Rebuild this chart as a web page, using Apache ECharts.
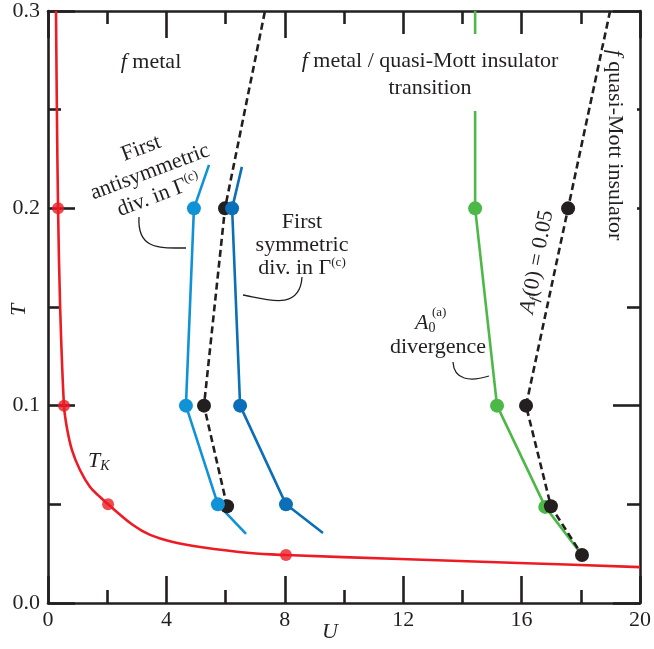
<!DOCTYPE html>
<html>
<head>
<meta charset="utf-8">
<script src="https://cdn.jsdelivr.net/npm/echarts@6/dist/echarts.min.js"></script>
<style>
  html, body { margin: 0; padding: 0; background: #ffffff; }
  #chart { width: 654px; height: 649px; }
</style>
</head>
<body>
<div id="chart"></div>
<script>
const INK = '#231f20';
const RED = '#ed1c24';
const GREEN = '#4cb848';
const LIGHT_BLUE = '#0f93d6';
const DARK_BLUE = '#0a6fb8';
const SERIF = '"Liberation Serif", "Times New Roman", serif';

// Axis ticks
const xTicks = [0, 4, 8, 12, 16, 20];
const yTickLabels = ['0.0', '0.1', '0.2', '0.3'];

// Kondo scale T_K(U)
const tkU = [0.27, 0.30, 0.34, 0.41, 0.54, 0.64, 0.81, 1.08, 1.42, 1.76, 2.03, 2.87, 3.45, 4.22, 5.14, 6.82, 8.04, 11.9, 15.9, 20.0];
const tkT = [0.300, 0.250, 0.200, 0.150, 0.100, 0.0887, 0.0775, 0.0674, 0.0588, 0.0537, 0.050, 0.0395, 0.0345, 0.0309, 0.0284, 0.0253, 0.0243, 0.0223, 0.0203, 0.0182];
const tkDotU = [0.34, 0.54, 2.03, 8.04];
const tkDotT = [0.20, 0.10, 0.05, 0.0243];

// First antisymmetric divergence in Gamma^(c)
const antiU = [5.44, 4.93, 4.66, 5.74, 6.69];
const antiT = [0.222, 0.20, 0.10, 0.05, 0.035];
const antiDot = [false, true, true, true, false];

// First symmetric divergence in Gamma^(c)
const symU = [6.55, 6.22, 6.49, 8.04, 9.29];
const symT = [0.221, 0.20, 0.10, 0.05, 0.0355];
const symDot = [false, true, true, true, false];

// Left A_f(0) = 0.05 contour
const afLeftU = [6.05, 5.27, 5.98, 7.33];
const afLeftT = [0.049, 0.10, 0.20, 0.30];
const afLeftDot = [true, true, true, false];

// A_0^(a) divergence line
const a0U = [14.43, 14.43, 15.17, 16.80, 18.04];
const a0T = [0.30, 0.20, 0.10, 0.0487, 0.0243];
const a0Dot = [false, true, true, true, false];

// Right A_f(0) = 0.05 contour
const afRightU = [18.99, 17.57, 16.15, 16.99, 18.04];
const afRightT = [0.30, 0.20, 0.10, 0.049, 0.0243];
const afRightDot = [false, true, true, true, true];

function pts(us, ts, dots) {
  return us.map((u, i) => ({
    value: [u, ts[i]],
    symbol: (dots && dots[i]) ? 'circle' : 'none'
  }));
}

function lineSeries(us, ts, dots, color, dashed, size) {
  return {
    type: 'line',
    data: pts(us, ts, dots),
    showAllSymbol: true,
    symbolSize: size || 13,
    itemStyle: { color: color },
    lineStyle: { color: color, width: 2.6, type: dashed ? [7, 4] : 'solid', cap: 'butt' },
    emphasis: { disabled: true },
    silent: true,
    z: 3
  };
}

const axisBase = {
  type: 'value',
  axisLine: { show: true, onZero: false, lineStyle: { color: INK, width: 2.6 } },
  axisTick: { show: true, inside: true, length: 27, lineStyle: { color: INK, width: 2.6 } },
  minorTick: { show: true, splitNumber: 2, length: 13, lineStyle: { color: INK, width: 2.6 } },
  splitLine: { show: false },
  minorSplitLine: { show: false }
};

const tickFont = { fontFamily: SERIF, fontSize: 22, color: INK };

const chart = echarts.init(document.getElementById('chart'));

const italic = { fontFamily: SERIF, fontSize: 22, fontStyle: 'italic', fill: INK };
const roman = { fontFamily: SERIF, fontSize: 22, fill: INK };
const supStyle = { fontFamily: SERIF, fontSize: 13, fill: INK, verticalAlign: 'top' };

function label(x, y, text, opts) {
  const o = opts || {};
  const lh = o.lineHeight || 24;
  return {
    type: 'text',
    x: x, y: y,
    rotation: o.rotation || 0,
    z: 100,
    silent: true,
    style: Object.assign({
      text: text,
      fontFamily: SERIF,
      fontSize: 22,
      fill: INK,
      align: o.align || 'center',
      verticalAlign: 'middle',
      lineHeight: lh,
      rich: {
        i: Object.assign({}, italic, { lineHeight: lh }),
        n: Object.assign({}, roman, { lineHeight: lh }),
        sup: Object.assign({}, supStyle, { lineHeight: lh }),
        sub: { fontFamily: SERIF, fontSize: 14, fill: INK, fontStyle: o.subItalic ? 'italic' : 'normal', verticalAlign: 'bottom', lineHeight: lh }
      }
    }, o.box || {})
  };
}

function leader(x1, y1, c1x, c1y, c2x, c2y, x2, y2) {
  return {
    type: 'bezierCurve',
    z: 100,
    silent: true,
    shape: { x1: x1, y1: y1, cpx1: c1x, cpy1: c1y, cpx2: c2x, cpy2: c2y, x2: x2, y2: y2 },
    style: { stroke: INK, lineWidth: 1.3, fill: null }
  };
}

chart.setOption({
  animation: false,
  backgroundColor: '#ffffff',
  grid: { left: 48, right: 14, top: 11, bottom: 46, containLabel: false },
  xAxis: [
    Object.assign({}, axisBase, {
      min: 0, max: 20, interval: 4, position: 'bottom',
      axisLabel: Object.assign({}, tickFont, {
        margin: 6, showMinLabel: true, showMaxLabel: true,
        formatter: v => { const i = xTicks.indexOf(v); return i >= 0 ? String(xTicks[i]) : ''; }
      })
    }),
    Object.assign({}, axisBase, {
      min: 0, max: 20, interval: 4, position: 'top', axisLabel: { show: false }
    })
  ],
  yAxis: [
    Object.assign({}, axisBase, {
      min: 0, max: 0.3, interval: 0.1, position: 'left',
      axisLabel: Object.assign({}, tickFont, {
        margin: 8, showMinLabel: true, showMaxLabel: true,
        formatter: v => yTickLabels[Math.round(v * 10)] || ''
      })
    }),
    Object.assign({}, axisBase, {
      min: 0, max: 0.3, interval: 0.1, position: 'right', axisLabel: { show: false }
    })
  ],
  series: [
    Object.assign(lineSeries(tkU, tkT, null, RED, false), { smooth: 0.35, lineStyle: { color: RED, width: 2.6 } }),
    {
      type: 'scatter', data: tkDotU.map((u, i) => [u, tkDotT[i]]),
      symbolSize: 12, itemStyle: { color: RED }, silent: true, z: 3
    },
    lineSeries(afLeftU, afLeftT, afLeftDot, INK, true, 14),
    lineSeries(antiU, antiT, antiDot, LIGHT_BLUE, false, 14),
    lineSeries(symU, symT, symDot, DARK_BLUE, false, 14),
    lineSeries(a0U, a0T, a0Dot, GREEN, false, 14),
    lineSeries(afRightU, afRightT, afRightDot, INK, true, 14)
  ],
  graphic: [
    label(151, 62, '{i|f} metal'),
    label(430, 72.5, '{i|f} metal / quasi-Mott insulator\ntransition', {
      lineHeight: 27, box: { backgroundColor: '#ffffff', padding: [14, 4, 9, 4] }
    }),
    label(620, 145, '{i|f} quasi-Mott insulator', {
      rotation: -Math.PI / 2, box: { backgroundColor: '#ffffff', padding: [10, 2, 0, 2] }
    }),
    label(150, 172, 'First\nantisymmetric\ndiv. in Γ{sup|(c)}', { rotation: 0.36, lineHeight: 25 }),
    label(302, 245, 'First\nsymmetric\ndiv. in Γ{sup|(c)}', { lineHeight: 23 }),
    leader(139, 217, 137, 250, 160, 248, 186, 248),
    leader(243, 295, 265, 299, 300, 312, 302, 277),
    label(415, 323, '{i|A}{sub|0}', { align: 'left' }),
    label(432, 313, '(a)', { align: 'left', box: { fontSize: 13 } }),
    label(438, 347, 'divergence'),
    leader(453, 362, 454, 380, 470, 382, 489, 376),
    label(537, 262, '{i|A}{sub|f}(0) = 0.05', { rotation: 1.38, subItalic: true }),
    label(88, 461, '{i|T}{sub|K}', { align: 'left', subItalic: true }),
    label(330, 632, '{i|U}'),
    label(19, 310, '{i|T}', { rotation: Math.PI / 2 })
  ]
});
</script>
</body>
</html>
